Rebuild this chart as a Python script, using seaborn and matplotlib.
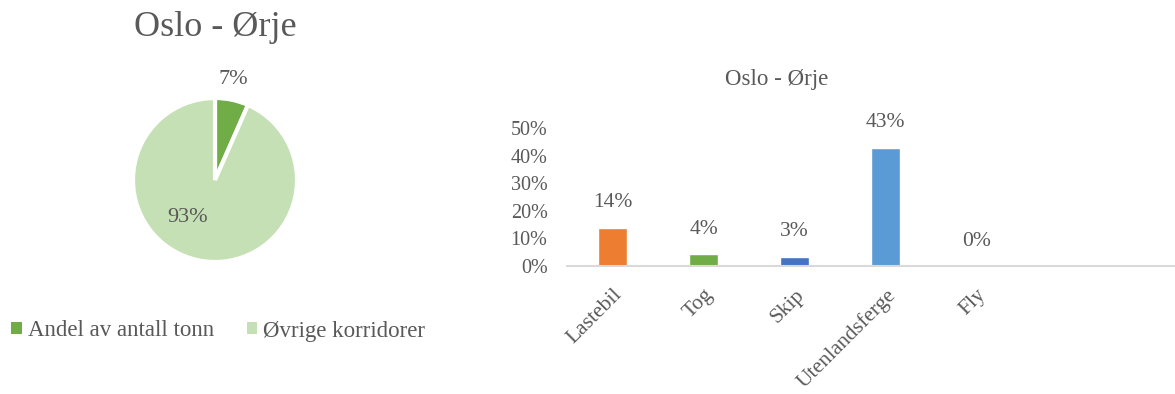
import matplotlib
matplotlib.use("Agg")
import matplotlib.pyplot as plt
import seaborn as sns
import pandas as pd
from matplotlib.patches import Patch

# ---- data ----
pie_labels = ["Andel av antall tonn", "Øvrige korridorer"]
pie_values = [0.066, 0.934]
pie_colors = ["#70AD47", "#C5E0B4"]

modes = ["Lastebil", "Tog", "Skip", "Utenlandsferge", "Fly"]
shares = [0.138, 0.043, 0.034, 0.428, 0.0]
bar_colors = ["#ED7D31", "#70AD47", "#4472C4", "#5B9BD5", "#A5A5A5"]
yticks = [0.0, 0.1, 0.2, 0.3, 0.4, 0.5]
title = "Oslo - Ørje"

sns.set_theme(style="white")
plt.rcParams["font.family"] = ["Liberation Serif", "DejaVu Serif"]
TXT = "#595959"

W, H = 1175, 394
fig = plt.figure(figsize=(W / 100, H / 100), dpi=100)

# ---- pie ----
cx, cy, r = 215, 180, 82
axp = fig.add_axes([(cx - r) / W, (H - cy - r) / H, 2 * r / W, 2 * r / H])
wedges, _ = axp.pie(pie_values, colors=pie_colors, startangle=90, counterclock=False,
                    wedgeprops=dict(edgecolor="white", linewidth=3))
axp.set_xlim(-1, 1)
axp.set_ylim(-1, 1)
axp.set_aspect("equal")
axp.text(0.22, 1.22, f"{pie_values[0]:.0%}", ha="center", va="center", fontsize=16, color=TXT)
axp.text(-0.34, -0.46, f"{pie_values[1]:.0%}", ha="center", va="center", fontsize=16, color=TXT)
fig.text(cx / W, 1 - 28 / H, title, ha="center", va="center", fontsize=26, color=TXT)

handles = [Patch(facecolor=c, edgecolor="none") for c in pie_colors]
fig.legend(handles, pie_labels, loc="center left", bbox_to_anchor=(0.0, 1 - 331 / H),
           ncol=2, frameon=False, fontsize=16.5, labelcolor=TXT, handlelength=0.45,
           handleheight=0.45, handletextpad=0.25, columnspacing=1.45, borderpad=0,
           borderaxespad=0.5)

# ---- bars ----
x0, y0, ytop = 567, 266, 128
axb = fig.add_axes([x0 / W, (H - y0) / H, 1 - x0 / W, (y0 - ytop) / H])
df = pd.DataFrame({"mode": modes, "share": shares})
sns.barplot(data=df, x="mode", y="share", hue="mode", palette=bar_colors,
            width=0.32, ax=axb, legend=False, saturation=1)
axb.set_ylim(0, 0.5)
axb.set_xlim(-0.5, 6.18)
axb.set_yticks(yticks)
axb.set_yticklabels([f"{t:.0%}" for t in yticks], fontsize=14.5, color=TXT)
axb.set_xticks(range(len(modes)))
axb.set_xticklabels(modes, rotation=45, ha="right", rotation_mode="anchor",
                    fontsize=15.5, color=TXT)
axb.tick_params(axis="both", length=0)
axb.tick_params(axis="y", pad=14)
axb.tick_params(axis="x", pad=14)
axb.set_xlabel("")
axb.set_ylabel("")
for s in ["top", "right", "left"]:
    axb.spines[s].set_visible(False)
axb.spines["bottom"].set_color("#D9D9D9")
axb.spines["bottom"].set_linewidth(1.5)
for i, v in enumerate(shares):
    axb.annotate(f"{v:.0%}", xy=(i, v), xytext=(0, 18), textcoords="offset points",
                 ha="center", va="center", fontsize=15.5, color=TXT, annotation_clip=False)
fig.text(777 / W, 1 - 80 / H, title, ha="center", va="center", fontsize=16.5, color=TXT)

fig.savefig("out.png", dpi=100)
